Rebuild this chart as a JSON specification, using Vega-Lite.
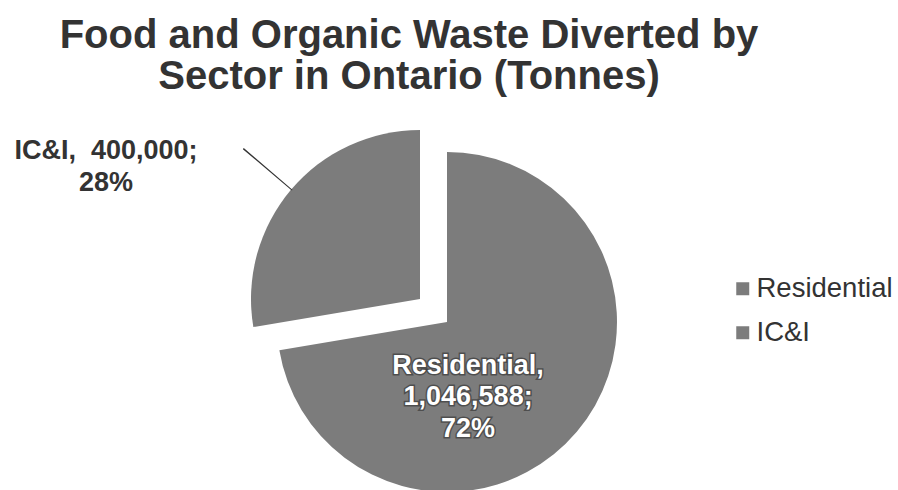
{
  "$schema": "https://vega.github.io/schema/vega-lite/v6.json",
  "autosize": {"type": "none"},
  "padding": {"top": 154, "left": 0, "right": 4, "bottom": 0},
  "width": 894,
  "height": 336,
  "background": "white",
  "title": {
    "text": ["Food and Organic Waste Diverted by", "Sector in Ontario (Tonnes)"],
    "font": "Liberation Sans",
    "fontSize": 40,
    "fontWeight": "bold",
    "color": "#333333",
    "anchor": "middle",
    "frame": "group",
    "dx": -38,
    "offset": 1,
    "lineHeight": 41,
    "baseline": "alphabetic"
  },
  "data": {
    "values": [
      {"sector": "Residential", "value": 1046588},
      {"sector": "IC&I", "value": 400000}
    ]
  },
  "transform": [
    {"joinaggregate": [{"op": "sum", "field": "value", "as": "total"}]},
    {"window": [{"op": "sum", "field": "value", "as": "cum"}], "sort": [{"field": "value", "order": "descending"}], "frame": [null, 0]},
    {"calculate": "2*PI*(datum.cum - datum.value)/datum.total", "as": "t0"},
    {"calculate": "2*PI*datum.cum/datum.total", "as": "t1"},
    {"calculate": "(datum.t0 + datum.t1)/2", "as": "tm"},
    {"calculate": "(datum.t0 + datum.t1)/2 + 0.006", "as": "tm2"},
    {"calculate": "format(datum.value/datum.total, '.0%')", "as": "pct"}
  ],
  "layer": [
    {
      "transform": [{"filter": "datum.sector == 'Residential'"}],
      "mark": {"type": "arc", "radius": 170},
      "encoding": {
        "theta": {"field": "t0", "type": "quantitative", "scale": null, "stack": null},
        "theta2": {"field": "t1"},
        "color": {
          "field": "sector",
          "type": "nominal",
          "scale": {"domain": ["Residential", "IC&I"], "range": ["#7c7c7c", "#7c7c7c"]},
          "legend": {
            "title": null,
            "orient": "none",
            "legendX": 729,
            "legendY": 121,
            "symbolType": "square",
            "symbolSize": 169,
            "symbolStrokeWidth": 0,
            "labelFont": "Liberation Sans",
            "labelFontSize": 27.5,
            "labelColor": "#333333",
            "labelOffset": 0,
            "rowPadding": 15,
            "padding": 0
          }
        }
      }
    },
    {
      "transform": [{"filter": "datum.sector == 'IC&I'"}],
      "mark": {"type": "arc", "radius": 169, "xOffset": -27, "yOffset": -23},
      "encoding": {
        "theta": {"field": "t0", "type": "quantitative", "scale": null, "stack": null},
        "theta2": {"field": "t1"},
        "color": {"field": "sector", "type": "nominal"}
      }
    },
    {
      "transform": [{"filter": "datum.sector == 'IC&I'"}],
      "mark": {"type": "arc", "radius": 232, "radius2": 168, "xOffset": -27, "yOffset": -23, "color": "#333333"},
      "encoding": {
        "theta": {"field": "tm", "type": "quantitative", "scale": null, "stack": null},
        "theta2": {"field": "tm2"}
      }
    },
    {
      "transform": [
        {"filter": "datum.sector == 'IC&I'"},
        {"calculate": "datum.sector + ',\u00a0 ' + format(datum.value, ',') + ';|' + datum.pct", "as": "label"}
      ],
      "mark": {
        "type": "text",
        "radius": 245,
        "dx": -154,
        "dy": -13,
        "align": "center",
        "baseline": "middle",
        "font": "Liberation Sans",
        "fontSize": 27,
        "fontWeight": "bold",
        "color": "#333333",
        "lineBreak": "|",
        "lineHeight": 32
      },
      "encoding": {
        "theta": {"field": "tm", "type": "quantitative", "scale": null, "stack": null},
        "text": {"field": "label", "type": "nominal"}
      }
    },
    {
      "transform": [
        {"filter": "datum.sector == 'Residential'"},
        {"calculate": "datum.sector + ',|' + format(datum.value, ',') + ';|' + datum.pct", "as": "label"}
      ],
      "mark": {
        "type": "text",
        "radius": 80,
        "dx": -40,
        "dy": -8,
        "align": "center",
        "baseline": "middle",
        "font": "Liberation Sans",
        "fontSize": 27,
        "fontWeight": "bold",
        "fill": "#3a3a3a",
        "stroke": "#3a3a3a",
        "strokeWidth": 3,
        "strokeOpacity": 0.7,
        "lineBreak": "|",
        "lineHeight": 31.5
      },
      "encoding": {
        "theta": {"field": "tm", "type": "quantitative", "scale": null, "stack": null},
        "text": {"field": "label", "type": "nominal"}
      }
    },
    {
      "transform": [
        {"filter": "datum.sector == 'Residential'"},
        {"calculate": "datum.sector + ',|' + format(datum.value, ',') + ';|' + datum.pct", "as": "label"}
      ],
      "mark": {
        "type": "text",
        "radius": 80,
        "dx": -40,
        "dy": -8,
        "align": "center",
        "baseline": "middle",
        "font": "Liberation Sans",
        "fontSize": 27,
        "fontWeight": "bold",
        "color": "#ffffff",
        "lineBreak": "|",
        "lineHeight": 31.5
      },
      "encoding": {
        "theta": {"field": "tm", "type": "quantitative", "scale": null, "stack": null},
        "text": {"field": "label", "type": "nominal"}
      }
    }
  ],
  "config": {
    "view": {"stroke": null}
  }
}
